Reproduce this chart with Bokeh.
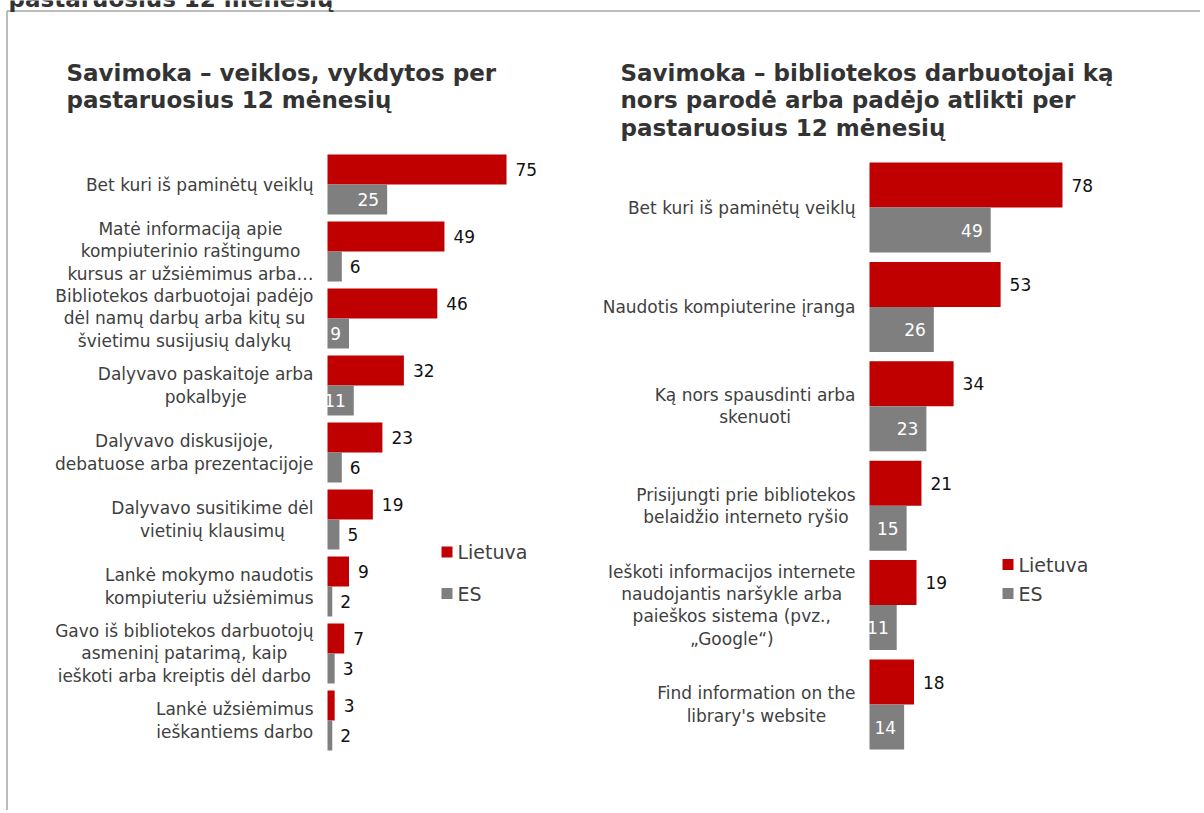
from bokeh.plotting import figure
from bokeh.models import Range1d
from bokeh.embed import file_html
from bokeh.resources import INLINE
from bokeh.core.properties import value

# ---------------- data ----------------
series_names = ["Lietuva", "ES"]

top_cut_title = "pastaruosius 12 mėnesių"

left_title = "Savimoka – veiklos, vykdytos per\npastaruosius 12 mėnesių"
left_categories = [
    "Bet kuri iš paminėtų veiklų",
    "Matė informaciją apie\nkompiuterinio raštingumo\nkursus ar užsiėmimus arba…",
    "Bibliotekos darbuotojai padėjo\ndėl namų darbų arba kitų su\nšvietimu susijusių dalykų",
    "Dalyvavo paskaitoje arba\npokalbyje",
    "Dalyvavo diskusijoje,\ndebatuose arba prezentacijoje",
    "Dalyvavo susitikime dėl\nvietinių klausimų",
    "Lankė mokymo naudotis\nkompiuteriu užsiėmimus",
    "Gavo iš bibliotekos darbuotojų\nasmeninį patarimą, kaip\nieškoti arba kreiptis dėl darbo",
    "Lankė užsiėmimus\nieškantiems darbo",
]
left_lietuva = [75, 49, 46, 32, 23, 19, 9, 7, 3]
left_es = [25, 6, 9, 11, 6, 5, 2, 3, 2]

right_title = "Savimoka – bibliotekos darbuotojai ką\nnors parodė arba padėjo atlikti per\npastaruosius 12 mėnesių"
right_categories = [
    "Bet kuri iš paminėtų veiklų",
    "Naudotis kompiuterine įranga",
    "Ką nors spausdinti arba\nskenuoti",
    "Prisijungti prie bibliotekos\nbelaidžio interneto ryšio",
    "Ieškoti informacijos internete\nnaudojantis naršykle arba\npaieškos sistema (pvz.,\n„Google“)",
    "Find information on the\nlibrary's website",
]
right_lietuva = [78, 53, 34, 21, 19, 18]
right_es = [49, 26, 23, 15, 11, 14]

# ---------------- style ----------------
RED = "#C00000"
GRAY = "#7F7F7F"
TXT = "#404040"
VAL = "#111111"
FONT = value("DejaVu Sans")
W, H = 1200, 810

p = figure(width=W, height=H, x_range=Range1d(0, W), y_range=Range1d(H, 0),
           x_axis_location=None, y_axis_location=None, min_border=0,
           toolbar_location=None, output_backend="svg")
p.grid.visible = False
p.outline_line_color = None
p.background_fill_color = "white"

# frame lines (decoration)
p.segment(x0=[6.5, 6.5], y0=[10.5, 10.5], x1=[6.5, W], y1=[H, 10.5],
          line_color="#A6A6A6", line_width=1.5)

# cut-off heading at the very top (only its lower part is visible, as in the source)
p.text(x=[8], y=[-2], text=[top_cut_title], text_align="left", text_baseline="alphabetic",
       text_font=FONT, text_font_size="23px", text_font_style="bold", text_color="#333333")

panels = [
    dict(name="l", x0=327, ppu=2.387, y0=184, band=67.0, bar=30.0,
         cats=left_categories, a=left_lietuva, b=left_es, title=left_title,
         tx=66, ty=86, legx=446.5, legy=(551.5, 593)),
    dict(name="r", x0=869, ppu=2.474, y0=207, band=99.4, bar=45.0,
         cats=right_categories, a=right_lietuva, b=right_es, title=right_title,
         tx=620, ty=100, legx=1007.5, legy=(564, 593)),
]

for pn in panels:
    xn, yn = pn["name"] + "x", pn["name"] + "y"
    p.extra_x_ranges[xn] = Range1d(-pn["x0"] / pn["ppu"], (W - pn["x0"]) / pn["ppu"])
    p.extra_y_ranges[yn] = Range1d((H - pn["y0"]) / pn["band"], -pn["y0"] / pn["band"])
    h = pn["bar"] / pn["band"]
    n = len(pn["cats"])
    idx = list(range(n))
    ya = [i - h / 2 for i in idx]
    yb = [i + h / 2 for i in idx]

    p.hbar(y=ya, left=0, right=pn["a"], height=h, fill_color=RED, line_color=None,
           x_range_name=xn, y_range_name=yn)
    p.hbar(y=yb, left=0, right=pn["b"], height=h, fill_color=GRAY, line_color=None,
           x_range_name=xn, y_range_name=yn)

    # value labels
    p.text(x=pn["a"], y=ya, text=[str(v) for v in pn["a"]], x_offset=9,
           text_align="left", text_baseline="middle", text_font=FONT,
           text_font_size="17px", text_color=VAL, x_range_name=xn, y_range_name=yn)
    inside = [v for v in pn["b"] if v >= 9]
    yin = [y for v, y in zip(pn["b"], yb) if v >= 9]
    outside = [v for v in pn["b"] if v < 9]
    yout = [y for v, y in zip(pn["b"], yb) if v < 9]
    if inside:
        p.text(x=inside, y=yin, text=[str(v) for v in inside], x_offset=-8,
               text_align="right", text_baseline="middle", text_font=FONT,
               text_font_size="17px", text_color="white", x_range_name=xn, y_range_name=yn)
    if outside:
        p.text(x=outside, y=yout, text=[str(v) for v in outside], x_offset=8,
               text_align="left", text_baseline="middle", text_font=FONT,
               text_font_size="17px", text_color=VAL, x_range_name=xn, y_range_name=yn)

    # category labels
    p.text(x=[0] * n, y=idx, text=pn["cats"], x_offset=-14, anchor="center_right",
           text_align="center", text_baseline="middle", text_font=FONT,
           text_font_size="17px", text_line_height=1.12, text_color=TXT,
           x_range_name=xn, y_range_name=yn)

    # title
    p.text(x=[pn["tx"]], y=[pn["ty"]], text=[pn["title"]], anchor="center_left",
           text_align="left", text_baseline="middle", text_font=FONT,
           text_font_size="23px", text_font_style="bold", text_line_height=1.07,
           text_color="#333333")

    # legend
    p.scatter(x=[pn["legx"]] * 2, y=list(pn["legy"]), marker="square", size=11,
              fill_color=[RED, GRAY], line_color=None)
    p.text(x=[pn["legx"] + 10.5] * 2, y=list(pn["legy"]), text=series_names,
           text_align="left", text_baseline="middle", text_font=FONT,
           text_font_size="19px", text_color=TXT)

open("out.html", "w").write(file_html(p, INLINE))
